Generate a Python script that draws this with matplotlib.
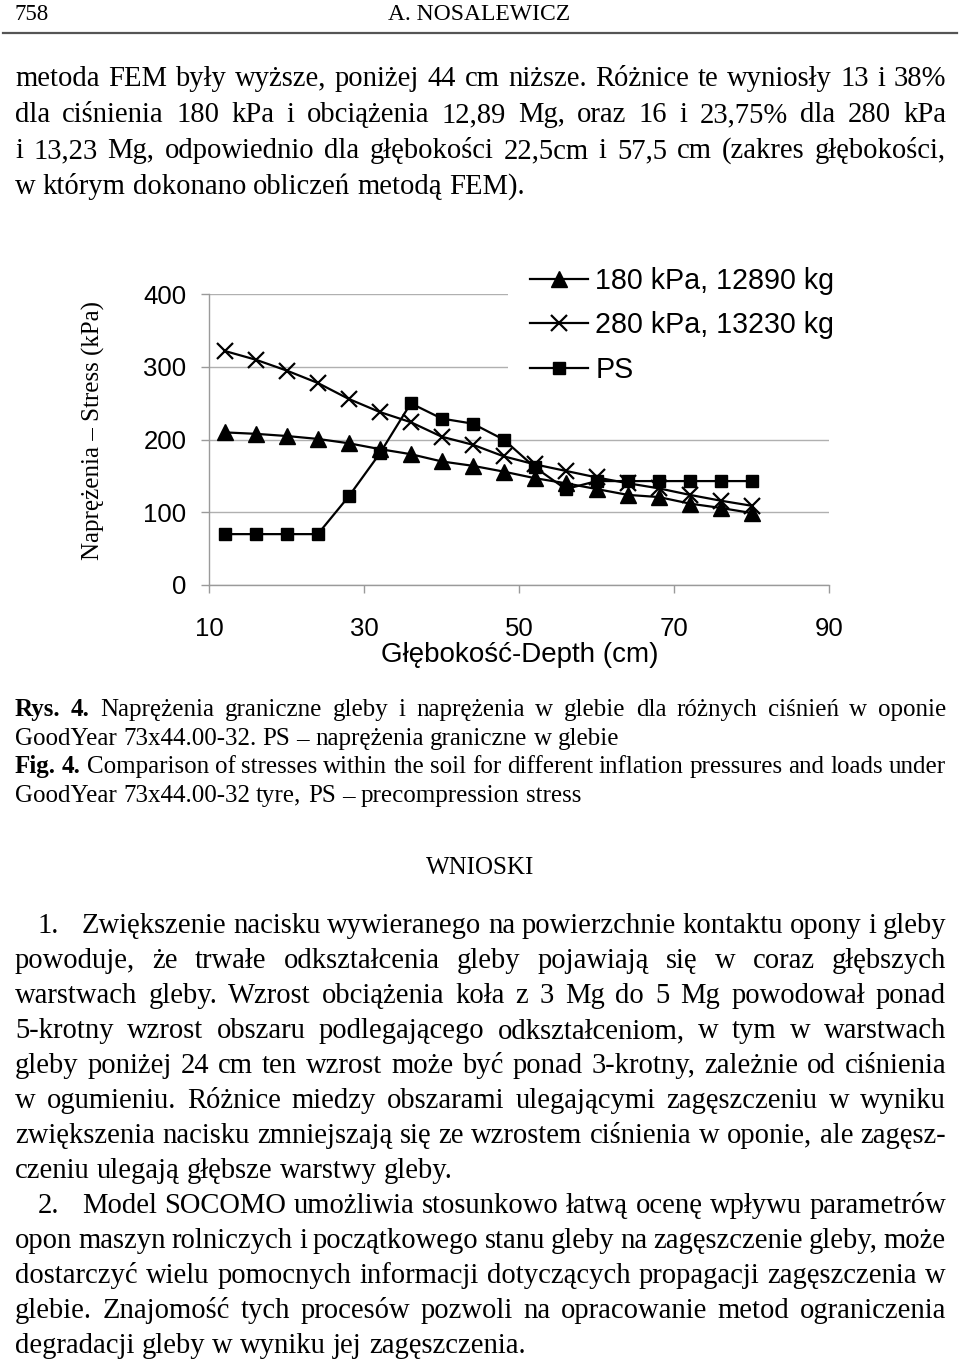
import matplotlib
matplotlib.use("Agg")
import matplotlib.pyplot as plt
from matplotlib.lines import Line2D

W, H, DPI = 960, 1361, 100
SERIF = ["Liberation Serif", "DejaVu Serif"]
SANS = ["Liberation Sans", "DejaVu Sans"]
plt.rcParams["font.family"] = SANS

# ── chart data ────────────────────────────────────────────────────
depth = [12, 16, 20, 24, 28, 32, 36, 40, 44, 48, 52, 56, 60, 64, 68, 72, 76, 80]
stress_180 = [210, 208, 205, 201, 195, 187, 180, 170, 164, 156, 147, 140, 132, 124, 121, 112, 106, 99]
stress_280 = [322, 310, 295, 278, 256, 238, 224, 204, 193, 177, 166, 157, 148, 140, 133, 124, 116, 109]
stress_ps = [70, 70, 70, 70, 122, 181, 250, 229, 222, 200, 162, 132, 143, 143, 143, 143, 143, 143]
series_labels = ["180 kPa, 12890 kg", "280 kPa, 13230 kg", "PS"]
x_ticks = [10, 30, 50, 70, 90]
y_ticks = [0, 100, 200, 300, 400]
x_title = "Głębokość-Depth (cm)"
y_title = "Naprężenia – Stress (kPa)"

# ── page text ─────────────────────────────────────────────────────
header_left = "758"
header_mid = "A. NOSALEWICZ"
para_top = [
    "metoda FEM były wyższe, poniżej 44 cm niższe. Różnice te wyniosły 13 i 38%",
    "dla ciśnienia 180 kPa i obciążenia 12,89 Mg, oraz 16 i 23,75% dla 280 kPa",
    "i 13,23 Mg, odpowiednio dla głębokości 22,5cm i 57,5 cm (zakres głębokości,",
    "w którym dokonano obliczeń metodą FEM).",
]
caption = [
    "Rys. 4. Naprężenia graniczne gleby i naprężenia w glebie dla różnych ciśnień w oponie",
    "GoodYear 73x44.00-32. PS – naprężenia graniczne w glebie",
    "Fig. 4. Comparison of stresses within the soil for different inflation pressures and loads under",
    "GoodYear 73x44.00-32 tyre, PS – precompression stress",
]
caption_bold = [2, 0, 2, 0]
caption_just = [True, False, True, False]
section = "WNIOSKI"
conclusions = [
    "1. Zwiększenie nacisku wywieranego na powierzchnie kontaktu opony i gleby",
    "powoduje, że trwałe odkształcenia gleby pojawiają się w coraz głębszych",
    "warstwach gleby. Wzrost obciążenia koła z 3 Mg do 5 Mg powodował ponad",
    "5-krotny wzrost obszaru podlegającego odkształceniom, w tym w warstwach",
    "gleby poniżej 24 cm ten wzrost może być ponad 3-krotny, zależnie od ciśnienia",
    "w ogumieniu. Różnice miedzy obszarami ulegającymi zagęszczeniu w wyniku",
    "zwiększenia nacisku zmniejszają się ze wzrostem ciśnienia w oponie, ale zagęsz-",
    "czeniu ulegają głębsze warstwy gleby.",
    "2. Model SOCOMO umożliwia stosunkowo łatwą ocenę wpływu parametrów",
    "opon maszyn rolniczych i początkowego stanu gleby na zagęszczenie gleby, może",
    "dostarczyć wielu pomocnych informacji dotyczących propagacji zagęszczenia w",
    "glebie. Znajomość tych procesów pozwoli na opracowanie metod ograniczenia",
    "degradacji gleby w wyniku jej zagęszczenia.",
]
concl_just = [True] * 7 + [False] + [True] * 4 + [False]

fig = plt.figure(figsize=(W / DPI, H / DPI), dpi=DPI)
renderer = fig.canvas.get_renderer()


def fx(px):
    return px / W


def fy(py):
    return 1 - py / H


def measure(word, size, weight="normal"):
    t = fig.text(0, 0, word, fontsize=size, family=SERIF, weight=weight)
    w = t.get_window_extent(renderer).width
    t.remove()
    return w


LEFT, RIGHT = 15, 946
NUM_X, NUM_TEXT_X = 38, 82


def split_line(line, bold_n):
    words = line.split()
    start = LEFT
    num = None
    if words and words[0][:-1].isdigit() and words[0].endswith(".") and bold_n == 0:
        num = words[0]
        words = words[1:]
        start = NUM_TEXT_X
    weights = ["bold" if i < bold_n else "normal" for i in range(len(words))]
    return num, words, weights, start


def fit_size(lines, bolds, size):
    worst = 1.0
    for line, b in zip(lines, bolds):
        num, words, weights, start = split_line(line, b)
        sp = 0.22 * size * DPI / 72
        nat = sum(measure(w, size, wt) for w, wt in zip(words, weights)) + sp * (len(words) - 1)
        worst = min(worst, (RIGHT - start) / nat)
    return size * worst


def draw_block(lines, baselines, size, bolds, justs):
    for line, yb, b, j in zip(lines, baselines, bolds, justs):
        num, words, weights, start = split_line(line, b)
        if num:
            fig.text(fx(NUM_X), fy(yb), num, fontsize=size, family=SERIF, va="baseline")
        widths = [measure(w, size, wt) for w, wt in zip(words, weights)]
        if j and len(words) > 1:
            gap = (RIGHT - start - sum(widths)) / (len(words) - 1)
        else:
            gap = 0.25 * size * DPI / 72
        x = start
        for w, wt, wd in zip(words, weights, widths):
            fig.text(fx(x), fy(yb), w, fontsize=size, family=SERIF, weight=wt, va="baseline")
            x += wd + gap


# header
fig.text(fx(15), fy(20), header_left, fontsize=16.5, family=SERIF, va="baseline")
fig.text(fx(479), fy(20), header_mid, fontsize=17, family=SERIF, va="baseline", ha="center")
fig.add_artist(Line2D([fx(3), fx(957)], [fy(33), fy(33)], transform=fig.transFigure,
                      color="#555555", lw=1.6))

body_size = min(fit_size(para_top[:3], [0] * 3, 21), fit_size(conclusions, [0] * 13, 21))
draw_block(para_top, [86, 122, 158, 194], body_size, [0] * 4, [True, True, True, False])

cap_size = fit_size(caption, caption_bold, 18)
draw_block(caption, [716, 745, 773, 802], cap_size, caption_bold, caption_just)

fig.text(fx(480), fy(874), section, fontsize=18, family=SERIF, va="baseline", ha="center")

concl_base = [933 + 35 * i for i in range(len(conclusions))]
draw_block(conclusions, concl_base, body_size, [0] * len(conclusions), concl_just)

# ── chart ─────────────────────────────────────────────────────────
x0, x1, ytop, ybot = 209.3, 829.3, 294.3, 585.0
ax = fig.add_axes([fx(x0), fy(ybot), (x1 - x0) / W, (ybot - ytop) / H])
ax.plot(depth, stress_180, marker="^", ms=11, color="black", lw=1.6, label=series_labels[0])
ax.plot(depth, stress_280, marker="x", ms=11, mew=1.6, color="black", lw=1.6, label=series_labels[1])
ax.plot(depth, stress_ps, marker="s", ms=9, color="black", lw=1.6, label=series_labels[2])
ax.set_xlim(10, 90)
ax.set_ylim(0, 400)
ax.set_xticks(x_ticks)
ax.set_yticks(y_ticks)
for s in ["top", "right"]:
    ax.spines[s].set_visible(False)
for s in ["left", "bottom"]:
    ax.spines[s].set_color("#9a9a9a")
    ax.spines[s].set_linewidth(1)
ax.grid(axis="y", color="#b0b0b0", lw=1)
ax.set_axisbelow(True)
ax.tick_params(colors="#9a9a9a", labelcolor="black", length=6, width=1, labelsize=18.5)
ax.tick_params(axis="x", pad=17)
ax.tick_params(axis="y", pad=10.5)

xl = ax.set_xlabel(x_title, fontsize=20)
ax.xaxis.set_label_coords(0.5, (ybot - 655) / (ybot - ytop))
xl.set_va("center")
yl = ax.set_ylabel(y_title, fontsize=18, family=SERIF)
ax.yaxis.set_label_coords((93 - x0) / (x1 - x0), 0.53)
yl.set_va("center")

leg = ax.legend(loc="upper left", bbox_to_anchor=((508 - x0) / (x1 - x0), (ybot - 245) / (ybot - ytop)),
                prop={"family": SANS, "size": 20.6}, handlelength=2.03, handletextpad=0.25,
                labelspacing=0.57, borderpad=0.77, borderaxespad=0, frameon=True,
                framealpha=1, fancybox=False)
leg.get_frame().set_edgecolor("none")
leg.get_frame().set_facecolor("white")

fig.savefig("out.png", dpi=DPI)
